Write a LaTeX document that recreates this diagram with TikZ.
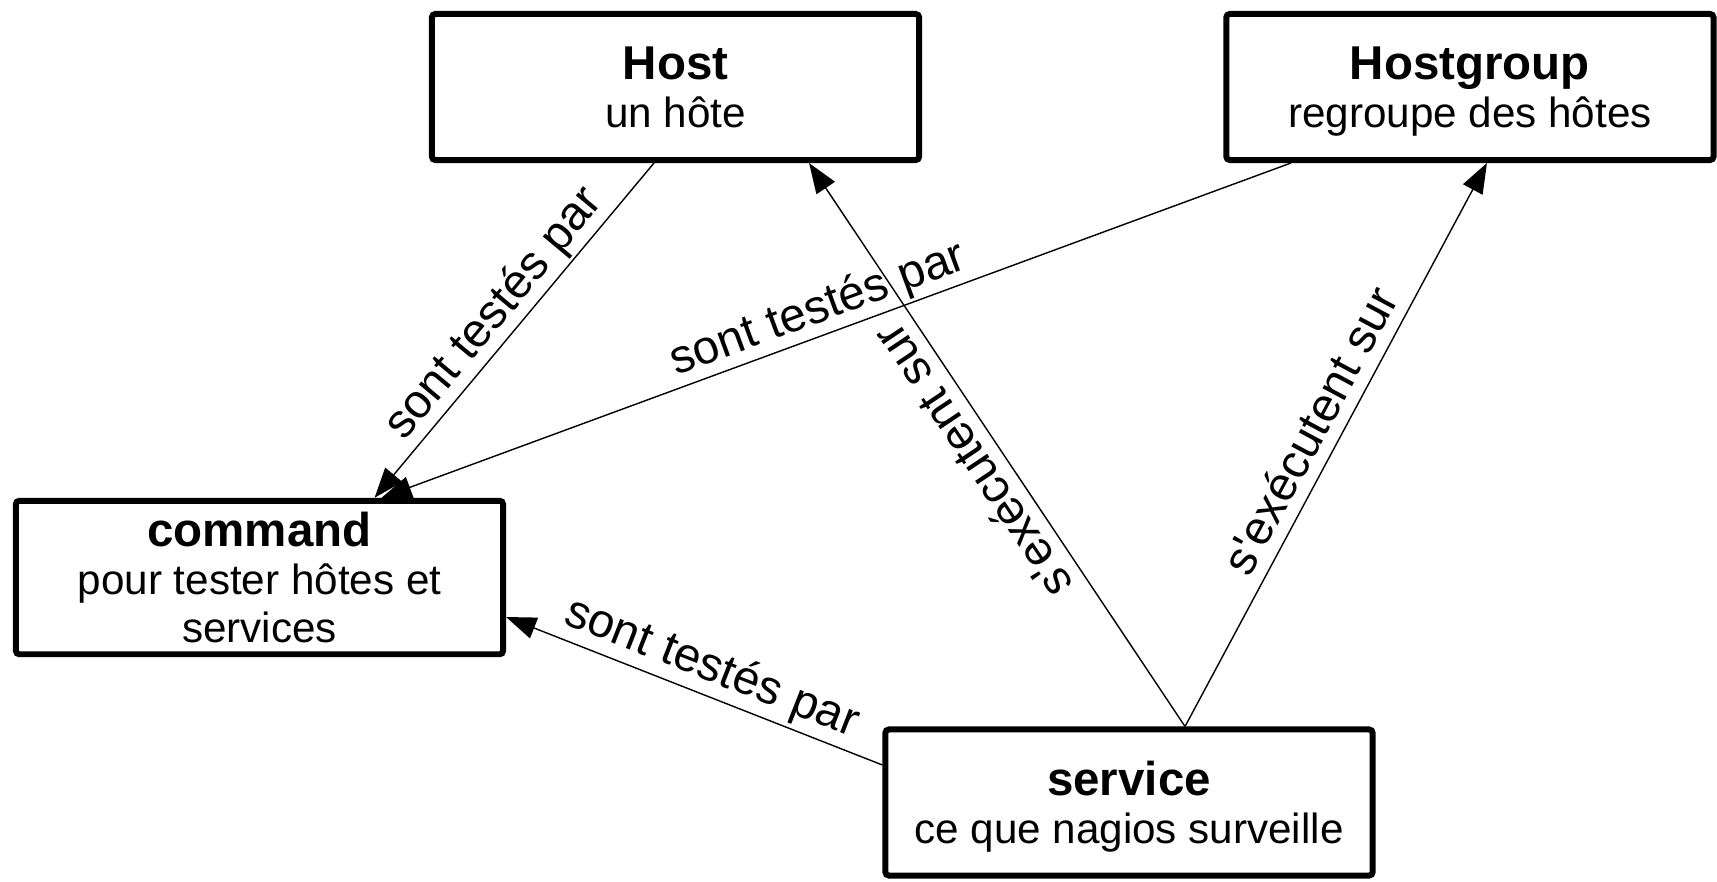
\documentclass[tikz,border=0pt]{standalone}
\usepackage{fontspec}
\newfontfamily\arial{Liberation Sans}
\usetikzlibrary{positioning, arrows.meta}

\newcommand{\titre}[1]{{\fontsize{13.5}{14}\selectfont\bfseries #1}}

\begin{document}
\begin{tikzpicture}[x=0.01cm, y=-0.01cm,
        box/.style={draw, line width=1.7pt, rounded corners=1pt, minimum width=4.87cm, minimum height=1.46cm,
            align=center, text depth=0pt, font=\arial\fontsize{12}{13.6}\selectfont},
        rel/.style={-{Triangle[length=0.3cm, width=0.22cm]}, line width=0.4pt},
        lbl/.style={sloped, above=3.5pt, inner sep=0pt, text depth=0pt, font=\arial\fontsize{13.5}{14}\selectfont}]
    \useasboundingbox (0,0) rectangle (1717,881);

    \node[box] (host) at (675.5,87) {\titre{Host}\\un hôte};
    \node[box] (hostgroup) [right=3.01cm of host] {\titre{Hostgroup}\\regroupe des hôtes};
    \node[box] (command) at (259.5,577.5) {\titre{command}\\pour tester hôtes et\\services};
    \node[box] (service) at (1129,802.5) {\titre{service}\\ce que nagios surveille};

    \draw[rel] ([xshift=-0.215cm]host.south) -- node[lbl, pos=0.5] {sont testés par} ([xshift=1.15cm]command.north);
    \draw[rel] ([xshift=-1.79cm]hostgroup.south) -- node[lbl, pos=0.51] {sont testés par} ([xshift=1.22cm]command.north);
    \draw[rel] ([xshift=0.56cm]service.north) -- node[lbl, pos=0.5, allow upside down] {s'exécutent sur} ([xshift=1.335cm]host.south);
    \draw[rel] ([xshift=0.56cm]service.north) -- node[lbl, pos=0.5] {s'exécutent sur} ([xshift=0.17cm]hostgroup.south);
    \draw[rel] ([yshift=0.375cm]service.west) -- node[lbl, pos=0.48, above=4pt] {sont testés par} ([yshift=-0.395cm]command.east);
\end{tikzpicture}
\end{document}
